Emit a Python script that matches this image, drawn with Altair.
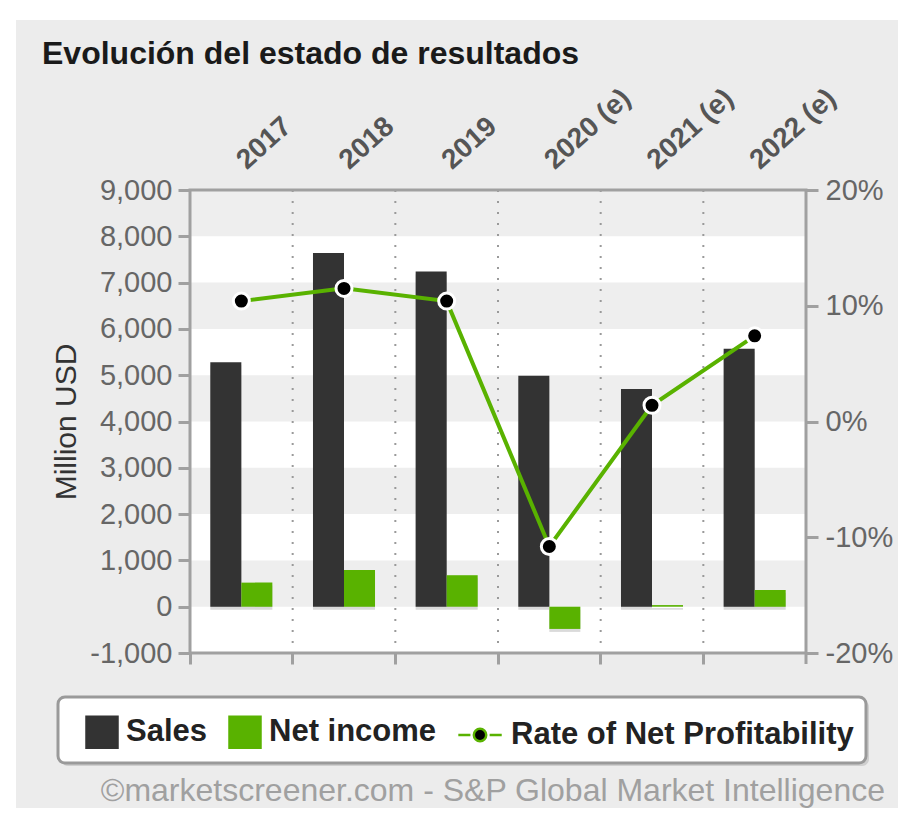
import altair as alt
import pandas as pd

# ---------------- data ----------------
years = ["2017", "2018", "2019", "2020 (e)", "2021 (e)", "2022 (e)"]
sales = [5280, 7640, 7240, 4990, 4700, 5570]
net_income = [520, 790, 680, -480, 35, 360]
rate = [10.4, 11.5, 10.4, -10.8, 1.4, 7.4]
series_names = ["Sales", "Net income", "Rate of Net Profitability"]
left_ticks = [-1000, 0, 1000, 2000, 3000, 4000, 5000, 6000, 7000, 8000, 9000]
right_ticks = [-20, -10, 0, 10, 20]
band_lo = [0, 2000, 4000, 6000, 8000]
band_hi = [1000, 3000, 5000, 7000, 9000]
title_text = "Evolución del estado de resultados"
footer_text = "©marketscreener.com - S&P Global Market Intelligence"
axis_title = "Million USD"

# ---------------- style ----------------
FONT = "Liberation Sans"
BG = "#ececec"
BAND = "#eeeeee"
AX = "#a0a0a0"
DARK = "#333333"
GREEN = "#59b200"
W, H = 616, 463
PL, PT, PR, PB = 182, 182, 92, 155
OX, OY = 8 + PL, 8 + PT  # page position of plot origin

LINEDOT = ("M-1.85,0L-1.07,0M0.17,0L0.95,0"
           "M-0.85,0A0.4,0.4 0 1,1 -0.05,0A0.4,0.4 0 1,1 -0.85,0Z")

one = pd.DataFrame({"k": [0]})

strip_left = alt.Chart(one).mark_rect(color="white", strokeWidth=0).encode(
    x=alt.value(8 - OX), x2=alt.value(16 - OX),
    y=alt.value(8 - OY), y2=alt.value(H + PB))
strip_top = alt.Chart(one).mark_rect(color="white", strokeWidth=0).encode(
    x=alt.value(8 - OX), x2=alt.value(W + PR),
    y=alt.value(8 - OY), y2=alt.value(20 - OY))

plot_bg = alt.Chart(one).mark_rect(color="white", strokeWidth=0).encode(
    x=alt.value(0), x2=alt.value(W), y=alt.value(0), y2=alt.value(H))
frame = alt.Chart(one).mark_rect(fillOpacity=0, stroke=AX, strokeWidth=3).encode(
    x=alt.value(0), x2=alt.value(W), y=alt.value(0), y2=alt.value(H))

box_shadow = alt.Chart(one).mark_rect(color="#000000", opacity=0.12, cornerRadius=7).encode(
    x=alt.value(58 - OX + 3), x2=alt.value(866 - OX + 3),
    y=alt.value(697 - OY + 3), y2=alt.value(763 - OY + 3))
box = alt.Chart(one).mark_rect(fill="white", stroke="#9a9a9a", strokeWidth=3, cornerRadius=7).encode(
    x=alt.value(58 - OX), x2=alt.value(866 - OX),
    y=alt.value(697 - OY), y2=alt.value(763 - OY))

yleft = alt.Scale(domain=[-1000, 9000], nice=False, zero=False)
yright = alt.Scale(domain=[-20, 20], nice=False, zero=False)
xscale = alt.Scale(paddingInner=0, paddingOuter=0)

bands = alt.Chart(pd.DataFrame({"lo": band_lo, "hi": band_hi})).mark_rect(
    color=BAND, strokeWidth=0).encode(
    x=alt.value(0), x2=alt.value(W),
    y=alt.Y("lo:Q", scale=yleft, axis=None), y2="hi:Q")

dots = alt.Chart(pd.DataFrame({"year": years[1:]})).mark_rule(
    color="#9a9a9a", strokeWidth=2, strokeDash=[2, 9]).encode(
    x=alt.X("year:N", sort=years, bandPosition=0, scale=xscale, axis=None),
    y=alt.value(0), y2=alt.value(H))

bars_df = pd.DataFrame({
    "year": years + years,
    "series": ["Sales"] * len(years) + ["Net income"] * len(years),
    "value": sales + net_income,
})

bottom_axis = alt.Axis(orient="bottom", labels=False, ticks=True, tickSize=11, tickWidth=3,
                       tickColor=AX, bandPosition=0, domain=False, grid=False, title=None,
                       zindex=1)
left_axis = alt.Axis(orient="left", values=left_ticks,
                     labelExpr="datum.value < 0 ? '-' + format(-datum.value, ',.0f') : format(datum.value, ',.0f')",
                     labelFont=FONT, labelFontSize=29, labelColor="#666666", labelPadding=6,
                     tickSize=12, tickWidth=3, tickColor=AX, domain=False,
                     grid=False, title=axis_title, titleFont=FONT, titleFontSize=30,
                     titleFontWeight="normal", titleColor="#333333", titlePadding=8, zindex=1)
xoff = alt.XOffset("series:N", sort=["Sales", "Net income"],
                   scale=alt.Scale(paddingInner=0, paddingOuter=0.655))

shadow = alt.Chart(bars_df).mark_bar(color="#555555", opacity=0.22, xOffset=3, yOffset=3,
                                     strokeWidth=0).encode(
    x=alt.X("year:N", sort=years, scale=xscale, axis=None),
    xOffset=xoff,
    y=alt.Y("value:Q", scale=yleft, axis=None))

bars = alt.Chart(bars_df).mark_bar(strokeWidth=0, opacity=1).encode(
    x=alt.X("year:N", sort=years, scale=xscale, axis=bottom_axis),
    xOffset=xoff,
    y=alt.Y("value:Q", scale=yleft, axis=left_axis),
    color=alt.Color("series:N", scale=alt.Scale(domain=["Sales", "Net income"],
                                                range=[DARK, GREEN]), legend=None))

rate_df = pd.DataFrame({"year": years, "rate": rate})
top_axis = alt.Axis(orient="top", labelAngle=318, labelAlign="left", labelBaseline="middle",
                    labelFont=FONT, labelFontSize=28, labelFontWeight="bold",
                    labelColor="#555555", labelPadding=26, ticks=False, domain=False,
                    grid=False, title=None, zindex=1)
right_axis = alt.Axis(orient="right", values=right_ticks, labelExpr="datum.value + '%'",
                      labelFont=FONT, labelFontSize=29, labelColor="#666666", labelPadding=7,
                      tickSize=12, tickWidth=3, tickColor=AX, domain=False,
                      grid=False, title=None, zindex=1)

line = alt.Chart(rate_df).mark_line(color=GREEN, strokeWidth=4).encode(
    x=alt.X("year:N", sort=years, scale=xscale, axis=top_axis),
    y=alt.Y("rate:Q", scale=yright, axis=right_axis))
points = alt.Chart(rate_df).mark_circle(size=256, color="black", stroke="white",
                                        strokeWidth=3, opacity=1).encode(
    x=alt.X("year:N", sort=years, scale=xscale, axis=None),
    y=alt.Y("rate:Q", scale=yright, axis=None))

leg = alt.Legend(title=None, orient="none", legendX=-105, legendY=525, direction="horizontal",
                 labelFont=FONT, labelFontSize=31, labelFontWeight="bold", labelColor="#222222",
                 labelLimit=600, symbolSize=961, symbolStrokeWidth=2.5, padding=0,
                 labelOffset=7, columnPadding=16, zindex=1)
legend_layer = alt.Chart(pd.DataFrame({"series": series_names})).mark_point(
    filled=True, opacity=1, size=20).encode(
    x=alt.value(-90), y=alt.value(541),
    fill=alt.Fill("series:N", sort=series_names,
                  scale=alt.Scale(domain=series_names, range=[DARK, GREEN, "#000000"]), legend=leg),
    stroke=alt.Stroke("series:N", sort=series_names,
                      scale=alt.Scale(domain=series_names, range=[DARK, GREEN, GREEN]), legend=leg),
    shape=alt.Shape("series:N", sort=series_names,
                    scale=alt.Scale(domain=series_names, range=["square", "square", LINEDOT]),
                    legend=leg))

footer = alt.Chart(pd.DataFrame({"t": [footer_text]})).mark_text(
    align="right", baseline="alphabetic", font=FONT, fontSize=32, color="#a0a0a0").encode(
    x=alt.value(885 - OX), y=alt.value(801 - OY), text="t:N")

tick_end = alt.Chart(one).mark_rule(color=AX, strokeWidth=3).encode(
    x=alt.value(W), y=alt.value(H), y2=alt.value(H + 11))

chart = alt.layer(strip_left, strip_top, box_shadow, box, plot_bg, bands, shadow, bars, dots,
                  line, points, frame, tick_end, legend_layer, footer
                  ).resolve_scale(y="independent").properties(
    width=W, height=H,
    padding={"left": PL, "top": PT, "right": PR, "bottom": PB},
    autosize="none",
    background=BG,
    title=alt.TitleParams(title_text, anchor="start", frame="group", dx=-148, offset=0, dy=88,
                          baseline="alphabetic", font=FONT, fontSize=32, fontWeight="bold",
                          color="#1a1a1a"),
).configure_view(stroke=None)

chart.save("out.html", embed_options={"renderer": "svg", "actions": False})
